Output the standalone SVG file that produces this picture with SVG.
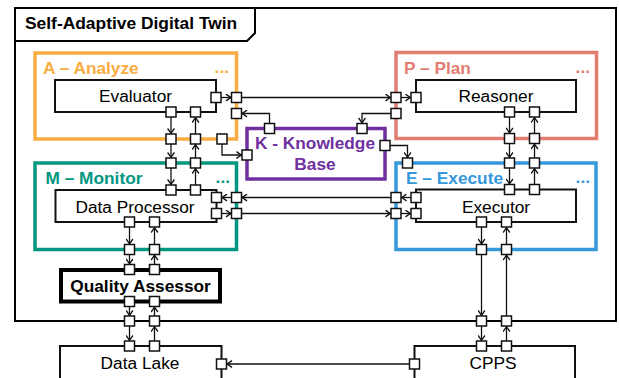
<svg xmlns="http://www.w3.org/2000/svg" xmlns:xlink="http://www.w3.org/1999/xlink" width="619" height="378" viewBox="0 0 619 378">
  <style>
    text { font-family: "Liberation Sans", Arial, sans-serif; font-size: 17.3px; }
    .b { font-weight: bold; }
    .mid { text-anchor: middle; }
    .end { text-anchor: end; }
    .frame { fill: none; stroke: #000; stroke-width: 2; }
    .comp { fill: none; stroke: #111; stroke-width: 2; }
    .phase { fill: none; stroke-width: 3.5; }
    .port { fill: #fff; stroke: #111; stroke-width: 1.5; }
    .wire { fill: none; stroke: #111; stroke-width: 1.3; marker-end: url(#arrow); }
    .plain { fill: none; stroke: #111; stroke-width: 1.3; }
  </style>
  <defs>
    <marker id="arrow" viewBox="0 0 6 8" refX="5.6" refY="4" markerWidth="6" markerHeight="8" markerUnits="userSpaceOnUse" orient="auto">
      <path d="M0.6,0.6 L5.4,4 L0.6,7.4" fill="none" stroke="#111" stroke-width="1.3"/>
    </marker>
    <rect id="p" x="-5" y="-5" width="10" height="10" class="port"/>
  </defs>

  <rect width="619" height="378" fill="#fff"/>

  <!-- system boundary -->
  <g id="digital-twin">
    <rect x="15" y="8" width="601" height="313" class="frame"/>
    <path d="M15,41 H247 L255,33 V8" class="frame"/>
    <text x="25" y="29" class="b" style="font-size:17.4px">Self-Adaptive Digital Twin</text>
  </g>

  <!-- MAPE-K phases -->
  <g id="analyze">
    <rect x="35" y="53" width="201.5" height="86" class="phase" stroke="#F9AC40"/>
    <text x="43" y="74" class="b" fill="#F9AC40">A – Analyze</text>
    <text x="229" y="73" class="b end" fill="#F9AC40">...</text>
  </g>
  <g id="plan">
    <rect x="396" y="52.5" width="200.5" height="86" class="phase" stroke="#E27D72"/>
    <text x="404" y="74" class="b" fill="#E27D72">P – Plan</text>
    <text x="590" y="73" class="b end" fill="#E27D72">...</text>
  </g>
  <g id="monitor">
    <rect x="35" y="163" width="201.5" height="86.5" class="phase" stroke="#00967F"/>
    <text x="45.5" y="184" class="b" fill="#00967F">M – Monitor</text>
    <text x="230" y="183" class="b end" fill="#00967F">...</text>
  </g>
  <g id="execute">
    <rect x="396" y="163" width="200" height="86.5" class="phase" stroke="#3598DB"/>
    <text x="406" y="184" class="b" fill="#3598DB">E – Execute</text>
    <text x="590" y="183" class="b end" fill="#3598DB">...</text>
  </g>
  <g id="knowledge-base">
    <rect x="247" y="128.5" width="138" height="50.5" class="phase" stroke="#7030A0"/>
    <text x="315" y="149" class="b mid" fill="#7030A0">K - Knowledge</text>
    <text x="315" y="170" class="b mid" fill="#7030A0">Base</text>
  </g>

  <!-- components -->
  <g id="evaluator">
    <rect x="55" y="80" width="161" height="32" class="comp"/>
    <text x="135.5" y="102" class="mid">Evaluator</text>
  </g>
  <g id="reasoner">
    <rect x="416" y="80" width="160" height="32" class="comp"/>
    <text x="496" y="102" class="mid">Reasoner</text>
  </g>
  <g id="data-processor">
    <rect x="55.5" y="190" width="161" height="32" class="comp"/>
    <text x="135" y="212.5" class="mid">Data Processor</text>
  </g>
  <g id="executor">
    <rect x="416" y="189.5" width="160" height="32.5" class="comp"/>
    <text x="496" y="212.5" class="mid">Executor</text>
  </g>
  <g id="quality-assessor">
    <rect x="61" y="270" width="159" height="31.5" fill="none" stroke="#000" stroke-width="4"/>
    <text x="140.5" y="292" class="b mid">Quality Assessor</text>
  </g>
  <g id="data-lake">
    <path d="M60,390 V346 H221.5 V390" class="comp"/>
    <text x="140" y="369" class="mid">Data Lake</text>
  </g>
  <g id="cpps">
    <path d="M414.5,390 V346 H575 V390" class="comp"/>
    <text x="493" y="369" class="mid">CPPS</text>
  </g>

  <!-- connectors -->
  <g id="connectors">
    <!-- Evaluator / Data Processor -->
    <line x1="171" y1="117" x2="171" y2="133.5" class="wire"/>
    <line x1="171" y1="144" x2="171" y2="157.5" class="wire"/>
    <line x1="171" y1="168" x2="171" y2="184.5" class="wire"/>
    <line x1="195.5" y1="185" x2="195.5" y2="168.5" class="wire"/>
    <line x1="195.5" y1="158" x2="195.5" y2="144.5" class="wire"/>
    <line x1="195.5" y1="134" x2="195.5" y2="117.5" class="wire"/>
    <!-- Evaluator to Reasoner -->
    <line x1="221" y1="97.5" x2="231" y2="97.5" class="wire"/>
    <line x1="241.5" y1="97.5" x2="390.5" y2="97.5" class="wire"/>
    <line x1="401" y1="97.5" x2="410.5" y2="97.5" class="wire"/>
    <!-- knowledge base links -->
    <path d="M391,113.5 H362 V123" class="wire"/>
    <path d="M269.5,123.5 V113.5 H242" class="wire"/>
    <path d="M222,144 V155 H241.5" class="wire"/>
    <path d="M390,145.5 H407.5 V157.5" class="wire"/>
    <!-- Reasoner / Executor -->
    <line x1="509.5" y1="117" x2="509.5" y2="133" class="wire"/>
    <line x1="509.5" y1="143.5" x2="509.5" y2="157.5" class="wire"/>
    <line x1="509.5" y1="168" x2="509.5" y2="184" class="wire"/>
    <line x1="534.5" y1="184.5" x2="534.5" y2="168.5" class="wire"/>
    <line x1="534.5" y1="158" x2="534.5" y2="144" class="wire"/>
    <line x1="534.5" y1="133.5" x2="534.5" y2="117.5" class="wire"/>
    <!-- Executor to Data Processor -->
    <line x1="411" y1="197.5" x2="401.5" y2="197.5" class="wire"/>
    <line x1="391" y1="197.5" x2="242" y2="197.5" class="wire"/>
    <line x1="231.5" y1="197.5" x2="222" y2="197.5" class="wire"/>
    <!-- Data Processor to Executor -->
    <line x1="221.5" y1="213.5" x2="231" y2="213.5" class="wire"/>
    <line x1="241.5" y1="213.5" x2="390.5" y2="213.5" class="wire"/>
    <line x1="401" y1="213.5" x2="410.5" y2="213.5" class="wire"/>
    <!-- Data Processor / Quality Assessor / Data Lake -->
    <line x1="129.5" y1="227" x2="129.5" y2="244" class="wire"/>
    <line x1="129.5" y1="254.5" x2="129.5" y2="264" class="wire"/>
    <line x1="129.5" y1="306.5" x2="129.5" y2="315.5" class="wire"/>
    <line x1="129.5" y1="326" x2="129.5" y2="340.5" class="wire"/>
    <line x1="154.5" y1="341" x2="154.5" y2="326.5" class="wire"/>
    <line x1="154.5" y1="316" x2="154.5" y2="307" class="wire"/>
    <line x1="154.5" y1="264.5" x2="154.5" y2="255" class="wire"/>
    <line x1="154.5" y1="244.5" x2="154.5" y2="227.5" class="wire"/>
    <!-- Executor / CPPS -->
    <line x1="481.5" y1="227" x2="481.5" y2="244" class="wire"/>
    <line x1="481.5" y1="254.5" x2="481.5" y2="315.5" class="wire"/>
    <line x1="481.5" y1="326" x2="481.5" y2="340.5" class="wire"/>
    <line x1="506.5" y1="341" x2="506.5" y2="326.5" class="wire"/>
    <line x1="506.5" y1="316" x2="506.5" y2="255" class="wire"/>
    <line x1="506.5" y1="244.5" x2="506.5" y2="227.5" class="wire"/>
    <!-- CPPS to Data Lake -->
    <line x1="409.5" y1="364" x2="227" y2="364" class="wire"/>
  </g>

  <!-- ports -->
  <g id="ports">
    <use xlink:href="#p" x="216" y="97.5"/>
    <use xlink:href="#p" x="171" y="112"/>
    <use xlink:href="#p" x="195.5" y="112"/>
    <use xlink:href="#p" x="236.5" y="97.5"/>
    <use xlink:href="#p" x="236.5" y="113.5"/>
    <use xlink:href="#p" x="171" y="139"/>
    <use xlink:href="#p" x="195.5" y="139"/>
    <use xlink:href="#p" x="222" y="139"/>
    <use xlink:href="#p" x="416" y="97.5"/>
    <use xlink:href="#p" x="509.5" y="112"/>
    <use xlink:href="#p" x="534.5" y="112"/>
    <use xlink:href="#p" x="396" y="97.5"/>
    <use xlink:href="#p" x="396" y="113.5"/>
    <use xlink:href="#p" x="509.5" y="138.5"/>
    <use xlink:href="#p" x="534.5" y="138.5"/>
    <use xlink:href="#p" x="269.5" y="128.5"/>
    <use xlink:href="#p" x="362" y="128.5"/>
    <use xlink:href="#p" x="247" y="155"/>
    <use xlink:href="#p" x="385" y="145.5"/>
    <use xlink:href="#p" x="171" y="163"/>
    <use xlink:href="#p" x="195.5" y="163"/>
    <use xlink:href="#p" x="236.5" y="197.5"/>
    <use xlink:href="#p" x="236.5" y="213.5"/>
    <use xlink:href="#p" x="129.5" y="249.5"/>
    <use xlink:href="#p" x="154.5" y="249.5"/>
    <use xlink:href="#p" x="171" y="190"/>
    <use xlink:href="#p" x="195.5" y="190"/>
    <use xlink:href="#p" x="216.5" y="197.5"/>
    <use xlink:href="#p" x="216.5" y="213.5"/>
    <use xlink:href="#p" x="129.5" y="222"/>
    <use xlink:href="#p" x="154.5" y="222"/>
    <use xlink:href="#p" x="407.5" y="163"/>
    <use xlink:href="#p" x="509.5" y="163"/>
    <use xlink:href="#p" x="534.5" y="163"/>
    <use xlink:href="#p" x="396" y="197.5"/>
    <use xlink:href="#p" x="396" y="213.5"/>
    <use xlink:href="#p" x="481.5" y="249.5"/>
    <use xlink:href="#p" x="506.5" y="249.5"/>
    <use xlink:href="#p" x="509.5" y="189.5"/>
    <use xlink:href="#p" x="534.5" y="189.5"/>
    <use xlink:href="#p" x="416" y="197.5"/>
    <use xlink:href="#p" x="416" y="213.5"/>
    <use xlink:href="#p" x="481.5" y="222"/>
    <use xlink:href="#p" x="506.5" y="222"/>
    <use xlink:href="#p" x="129.5" y="269.5"/>
    <use xlink:href="#p" x="154.5" y="269.5"/>
    <use xlink:href="#p" x="129.5" y="301.5"/>
    <use xlink:href="#p" x="154.5" y="301.5"/>
    <use xlink:href="#p" x="129.5" y="321"/>
    <use xlink:href="#p" x="154.5" y="321"/>
    <use xlink:href="#p" x="481.5" y="321"/>
    <use xlink:href="#p" x="506.5" y="321"/>
    <use xlink:href="#p" x="129.5" y="346"/>
    <use xlink:href="#p" x="154.5" y="346"/>
    <use xlink:href="#p" x="221.5" y="364"/>
    <use xlink:href="#p" x="481.5" y="346"/>
    <use xlink:href="#p" x="506.5" y="346"/>
    <use xlink:href="#p" x="414.5" y="364"/>
  </g>
</svg>
